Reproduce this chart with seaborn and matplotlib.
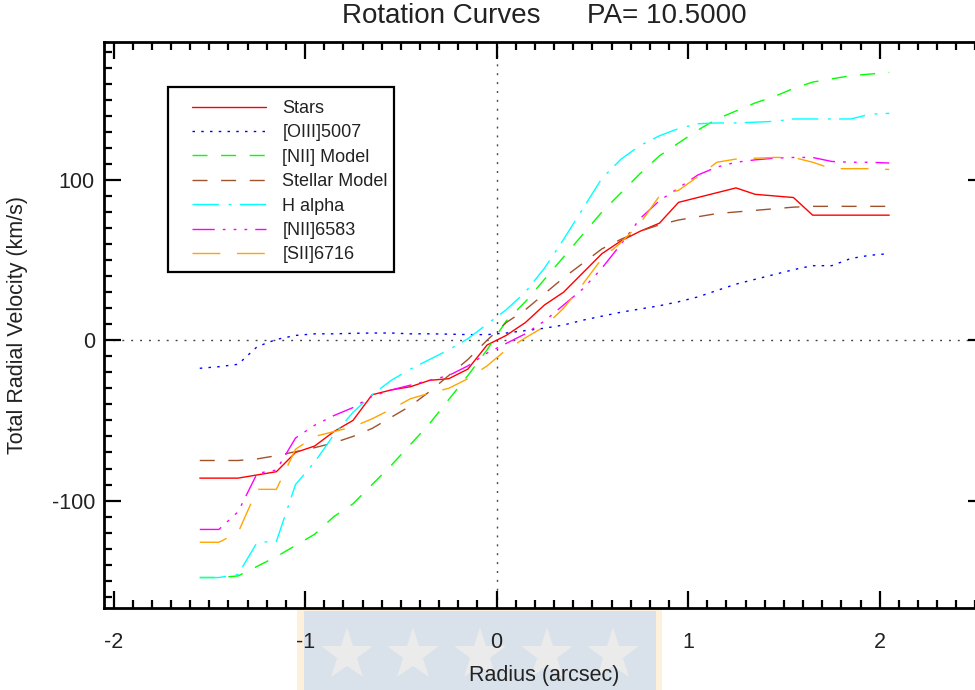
import numpy as np
import pandas as pd
import matplotlib
matplotlib.use("Agg")
import matplotlib.pyplot as plt
import seaborn as sns
from matplotlib.patches import Rectangle
from matplotlib.lines import Line2D
from matplotlib.ticker import MultipleLocator

# ---------------- data ----------------
radius = [-1.55, -1.45, -1.35, -1.25, -1.15, -1.05, -0.95, -0.85, -0.75, -0.65,
          -0.55, -0.45, -0.35, -0.25, -0.15, -0.05, 0.05, 0.15, 0.25, 0.35,
          0.45, 0.55, 0.65, 0.75, 0.85, 0.95, 1.05, 1.15, 1.25, 1.35,
          1.45, 1.55, 1.65, 1.75, 1.85, 1.95, 2.05]

stars = [-86, -86, -86, -84, -82, -70, -66, -57, -50, -34,
         -31, -29, -25, -24, -18, -3, 3, 11, 22, 30,
         42, 54, 62, 68, 73, 86, 89, 92, 95, 91,
         90, 89, 78, 78, 78, 78, 78]

oiii5007 = [-17.5, -16.5, -15, -4, 0.5, 3, 4, 4, 4.3, 4.5,
            4.5, 4, 4, 3.8, 3.5, 3.5, 4.5, 6, 7.5, 9.5,
            12.5, 15, 17.5, 19.5, 21.5, 24, 27, 31, 35, 38,
            41, 44, 46.5, 46.5, 51, 53, 54]

nii_model = [-148, -148, -147, -141, -135, -128, -121, -110, -102, -90,
             -78, -65, -52, -37, -22, -6, 12, 24, 38, 52,
             66, 80, 92, 104, 115, 123, 131, 138, 143, 148,
             152, 157, 161, 163, 165, 166, 167]

stellar_model = [-75, -75, -75, -74, -72, -69.5, -67, -64, -60, -55,
                 -48, -41, -32, -22, -12, 0, 11, 19, 29, 39,
                 48, 57, 63, 68, 72, 75, 77, 79, 80, 81,
                 82, 83, 83.5, 83.5, 83.5, 83.5, 83.5]

h_alpha = [-148, -148, -146, -126, -125.5, -90, -76, -59, -45, -34,
           -25, -18, -12, -6, 1, 10, 19, 30, 45, 63,
           82, 101, 113, 121.5, 127.5, 132, 135, 135.5, 135.5, 136,
           136.5, 138, 138, 138, 138, 141, 141.5]

nii6583 = [-118, -118, -107, -83, -81, -61, -53, -47, -42, -35,
           -31, -28, -25, -22, -16, -8, -2, 4, 12, 22,
           32, 45, 60, 76, 87, 95, 103, 108, 111, 112.5,
           113.5, 114, 114, 111.5, 111, 111, 110.5]

sii6716 = [-126, -126, -120, -93, -93, -68, -60, -57, -54, -49,
           -43, -36.5, -33, -30, -24, -16, -6, 1.5, 8.5, 20,
           35, 51, 61, 73, 90, 93.5, 102, 111, 113, 113.5,
           114, 114, 111, 107, 107, 107, 106.5]

series_names = ["Stars", "[OIII]5007", "[NII] Model", "Stellar Model",
                "H alpha", "[NII]6583", "[SII]6716"]
series_values = [stars, oiii5007, nii_model, stellar_model,
                 h_alpha, nii6583, sii6716]

title_text = "Rotation Curves      PA= 10.5000"
x_label = "Radius (arcsec)"
y_label = "Total Radial Velocity (km/s)"

# ---------------- styles ----------------
colors = ["#ff0000", "#0000ff", "#00ff00", "#a0522d", "#00ffff", "#ff00ff", "#ffa500"]
linestyles = [
    "-",
    (0, (1.8, 4.5)),
    (0, (10.8, 9.8)),
    (0, (10.8, 9.8)),
    (0, (19, 7, 2, 6)),
    (0, (16, 5.8, 2, 5.8, 2, 5.8, 2, 5.8)),
    (0, (20, 12)),
]

df = pd.DataFrame({
    "radius": np.tile(radius, len(series_names)),
    "velocity": np.concatenate([np.asarray(v, float) for v in series_values]),
    "series": np.repeat(series_names, len(radius)),
})

sns.set_style("ticks")
plt.rcParams["font.family"] = ["Liberation Sans", "DejaVu Sans"]
plt.rcParams["axes.unicode_minus"] = False
plt.rcParams["text.color"] = "#222222"
plt.rcParams["axes.labelcolor"] = "#222222"
plt.rcParams["xtick.color"] = "black"
plt.rcParams["ytick.color"] = "black"
plt.rcParams["xtick.labelcolor"] = "#222222"
plt.rcParams["ytick.labelcolor"] = "#222222"

W, H = 975, 690
fig = plt.figure(figsize=(W / 100, H / 100), dpi=100)
fig.patch.set_facecolor("white")

# axes (right side extends slightly beyond the canvas, as in the reference)
left_px, right_px, top_px, bottom_px = 104, 985, 42, 608
ax = fig.add_axes([left_px / W, 1 - bottom_px / H,
                   (right_px - left_px) / W, (bottom_px - top_px) / H])
ax.set_facecolor("white")

for name, c, ls in zip(series_names, colors, linestyles):
    sns.lineplot(data=df[df["series"] == name], x="radius", y="velocity",
                 color=c, linestyle=ls, linewidth=1.0, ax=ax, label=name,
                 estimator=None, sort=True)

ax.axhline(0, color="#444444", lw=1.0, ls=(0, (1.4, 5.0)), zorder=0.5)
ax.axvline(0, color="#444444", lw=1.0, ls=(0, (1.4, 5.0)), zorder=0.5)

ax.set_xlim(-2.05, 2.55)
ax.set_ylim(-167, 186)

ax.xaxis.set_major_locator(MultipleLocator(1))
ax.xaxis.set_minor_locator(MultipleLocator(0.1))
ax.yaxis.set_major_locator(MultipleLocator(100))
ax.yaxis.set_minor_locator(MultipleLocator(10))

ax.tick_params(which="both", direction="in", top=True, right=True,
               width=1.6)
ax.tick_params(which="major", length=12.5)
ax.tick_params(which="minor", length=6)
ax.tick_params(axis="x", which="major", pad=17, labelsize=15.5)
ax.tick_params(axis="y", which="major", pad=6.5, labelsize=15.5)

for sp in ax.spines.values():
    sp.set_linewidth(2.0)
    sp.set_color("black")

ax.set_xlabel(x_label, fontsize=15.5)
ax.set_ylabel(y_label, fontsize=15.5)
ax.xaxis.set_label_coords(0.5, (bottom_px - 675) / (bottom_px - top_px))
ax.xaxis.label.set_va("center")
ax.yaxis.set_label_coords((18 - left_px) / (right_px - left_px), 0.5)
ax.yaxis.label.set_va("center")

ax.text(0.5, (bottom_px - 16) / (bottom_px - top_px), title_text,
        transform=ax.transAxes, ha="center", va="center", fontsize=20)

# legend (frameless, with a drawn box around it)
handles, labels = ax.get_legend_handles_labels()
leg = ax.legend(handles, labels, loc="upper left",
                bbox_to_anchor=(192 / W, 1 - 100 / H),
                bbox_transform=fig.transFigure,
                frameon=False, fontsize=13, handlelength=4.1,
                handletextpad=0.9, labelspacing=0.41, borderpad=0,
                borderaxespad=0)
leg.set_zorder(5)
fig.add_artist(Rectangle((168 / W, 1 - 272 / H), (394 - 168) / W, (272 - 87) / H,
                         transform=fig.transFigure, fill=False,
                         edgecolor="black", lw=1.6, zorder=4))

# watermark-like banner at the bottom
fig.add_artist(Rectangle((297 / W, 0), (662 - 297) / W, (H - 610) / H,
                         transform=fig.transFigure, facecolor="#fdf1dc",
                         edgecolor="none", zorder=-2))
fig.add_artist(Rectangle((304 / W, 0), (656 - 304) / W, (H - 611) / H,
                         transform=fig.transFigure, facecolor="#d9e1ea",
                         edgecolor="none", zorder=-1.5))
for sx in [347, 413, 480, 547, 613]:
    fig.add_artist(Line2D([sx / W], [1 - 655 / H], marker="*", markersize=40,
                          color="#ebebeb", markeredgewidth=0,
                          transform=fig.transFigure, zorder=-1))
ax.set_zorder(1)
ax.patch.set_zorder(0)

fig.savefig("out.png", dpi=100, facecolor="white")
